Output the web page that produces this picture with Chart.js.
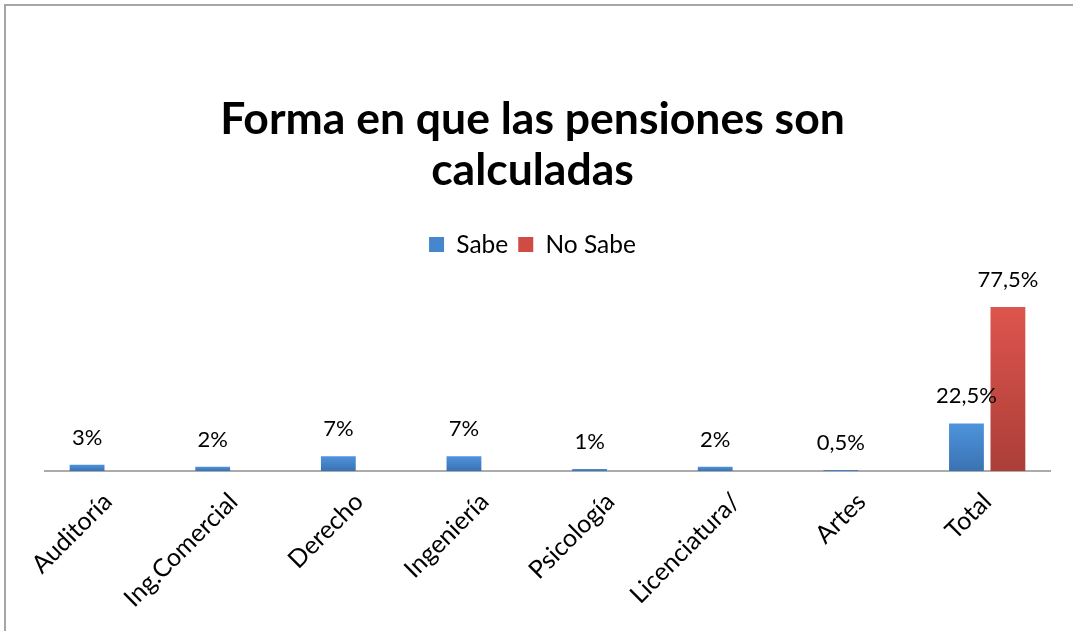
<!DOCTYPE html>
<html>
<head>
<meta charset="utf-8">
<script src="https://cdn.jsdelivr.net/npm/chart.js@4.4.0/dist/chart.umd.min.js"></script>
<style>
    body { margin: 0; background: #fff; overflow: hidden; }
    #frame { position: absolute; left: 4px; top: 4px; width: 1200px; height: 800px; border-left: 2px solid #a6a6a6; border-top: 2px solid #a6a6a6; }
    #wrap { position: absolute; left: 0; top: 0; width: 1073px; height: 631px; }
</style>
</head>
<body>
<div id="frame"></div>
<div id="wrap"><canvas id="chart"></canvas></div>
<script>
// Chart data
const categories = ['Auditoría', 'Ing.Comercial', 'Derecho', 'Ingeniería', 'Psicología', 'Licenciatura/', 'Artes', 'Total'];
const sabe = [3, 2, 7, 7, 1, 2, 0.5, 22.5];
const noSabe = [null, null, null, null, null, null, null, 77.5];
const titleLines = ['Forma en que las pensiones son', 'calculadas'];

const FONT = 'Lato, "Open Sans", sans-serif';

// vertical gradient per bar: lighter top, darker bottom
function barFill(top, bottom) {
    return function (context) {
        const chart = context.chart;
        if (!chart.chartArea || !chart.scales.y) return bottom;
        const y = chart.scales.y;
        const v = context.raw;
        if (v == null) return bottom;
        const y0 = y.getPixelForValue(0);
        const y1 = y.getPixelForValue(v);
        if (!isFinite(y0) || !isFinite(y1) || y0 === y1) return bottom;
        const g = chart.ctx.createLinearGradient(0, y1, 0, y0);
        g.addColorStop(0, top);
        g.addColorStop(1, bottom);
        return g;
    };
}

// Draw value labels above bars
const valueLabels = {
    id: 'valueLabels',
    afterDatasetsDraw(chart) {
        const ctx = chart.ctx;
        ctx.save();
        ctx.font = '22px ' + FONT;
        ctx.fillStyle = '#000';
        ctx.textAlign = 'center';
        ctx.textBaseline = 'alphabetic';
        chart.data.datasets.forEach((ds, i) => {
            chart.getDatasetMeta(i).data.forEach((bar, j) => {
                const v = ds.data[j];
                if (v == null) return;
                const txt = String(v).replace('.', ',') + '%';
                ctx.fillText(txt, bar.x, bar.y - 20);
            });
        });
        ctx.restore();
    }
};

const ctx = document.getElementById('chart').getContext('2d');
new Chart(ctx, {
    type: 'bar',
    data: {
        labels: categories,
        datasets: [{
            label: 'Sabe',
            data: sabe,
            backgroundColor: barFill('#4e94dc', '#3a72b2'),
            borderWidth: 0
        }, {
            label: 'No Sabe',
            data: noSabe,
            backgroundColor: barFill('#dd554d', '#ab3e38'),
            borderWidth: 0
        }]
    },
    options: {
        responsive: true,
        maintainAspectRatio: false,
        animation: false,
        categoryPercentage: 0.66,
        barPercentage: 0.84,
        layout: { padding: { left: 15, right: 23, top: 0, bottom: 0 } },
        plugins: {
            title: {
                display: true,
                text: titleLines,
                color: '#000',
                font: { family: FONT, size: 44.5, weight: 'bold', lineHeight: 1.15 },
                padding: { top: 94, bottom: 26 }
            },
            legend: {
                display: true,
                labels: {
                    color: '#000',
                    font: { family: FONT, size: 24.5 },
                    boxWidth: 15,
                    boxHeight: 15,
                    padding: 10,
                    generateLabels(chart) {
                        const cols = ['#4586cc', '#cf4c45'];
                        return chart.data.datasets.map((ds, i) => ({
                            text: ds.label,
                            fillStyle: cols[i],
                            strokeStyle: cols[i],
                            lineWidth: 0,
                            datasetIndex: i,
                            fontColor: '#000'
                        }));
                    }
                }
            },
            tooltip: { enabled: false }
        },
        scales: {
            x: {
                grid: { display: false },
                border: { display: true, color: '#ababab', width: 2 },
                ticks: {
                    color: '#000',
                    font: { family: FONT, size: 25 },
                    minRotation: 45,
                    maxRotation: 45,
                    padding: 8
                },
                afterFit(scale) { scale.height = 160; }
            },
            y: {
                display: true,
                min: 0,
                max: 96.5,
                grid: { display: false },
                border: { display: false },
                ticks: { display: false },
                afterFit(scale) { scale.width = 30; }
            }
        }
    },
    plugins: [valueLabels]
});
</script>
</body>
</html>
